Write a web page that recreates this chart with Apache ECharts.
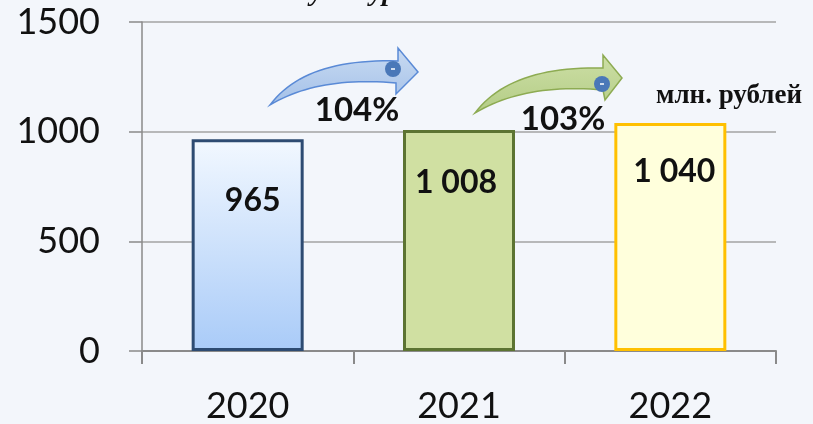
<!DOCTYPE html>
<html>
<head>
<meta charset="utf-8">
<script src="https://cdn.jsdelivr.net/npm/echarts@6/dist/echarts.min.js"></script>
<style>
  html, body { margin: 0; padding: 0; background: #f3f6fb; }
  #chart { width: 813px; height: 424px; }
</style>
</head>
<body>
<div id="chart"></div>
<script>
const years = ["2020", "2021", "2022"];
const amounts = [965, 1008, 1040];
const growthLabels = ["104%", "103%"];
const yTicks = [0, 500, 1000, 1500];
const unitText = "млн. рублей";

// bar looks, one per year
const barStyles = [
  {
    color: new echarts.graphic.LinearGradient(0, 0, 0, 1, [
      { offset: 0, color: "#f2f8ff" },
      { offset: 1, color: "#a9cbf8" },
    ]),
    borderColor: "#2d4b72",
  },
  { color: "#d0e0a2", borderColor: "#5c7432" },
  { color: "#ffffdc", borderColor: "#ffc000" },
];
const labelTweaks = [
  { distance: 45, offset: [5, 0] },
  { distance: 37, offset: [-3, 0] },
  { distance: 33, offset: [4, 0] },
];

const fmt = (v) => String(v).replace(/\B(?=(\d{3})+(?!\d))/g, " ");

const chart = echarts.init(document.getElementById("chart"));

// points along a quadratic curve, for the curved arrows
function quad(p0, c, p1, n) {
  const pts = [];
  for (let k = 0; k <= n; k++) {
    const t = k / n;
    const a = (1 - t) * (1 - t), b = 2 * (1 - t) * t, d = t * t;
    pts.push([a * p0[0] + b * c[0] + d * p1[0], a * p0[1] + b * c[1] + d * p1[1]]);
  }
  return pts;
}

function arrow(a, fillTop, fillBottom, stroke, dot) {
  const pts = [
    ...quad(a.tail, a.upperCtrl, a.upperEnd, 24),
    a.headTop,
    a.tip,
    a.headBottom,
    ...quad(a.lowerEnd, a.lowerCtrl, a.tail, 24),
  ];
  return [
    {
      type: "polygon",
      z: 10,
      shape: { points: pts },
      style: {
        fill: new echarts.graphic.LinearGradient(0, 0, 0, 1, [
          { offset: 0, color: fillTop },
          { offset: 1, color: fillBottom },
        ]),
        stroke: stroke,
        lineWidth: 1.5,
      },
    },
    {
      type: "circle",
      z: 11,
      shape: { cx: dot[0], cy: dot[1], r: 8 },
      style: { fill: "#4a78b8" },
    },
    {
      type: "line",
      z: 12,
      shape: { x1: dot[0] - 2, y1: dot[1], x2: dot[0] + 2, y2: dot[1] },
      style: { stroke: "#ffffff", lineWidth: 1.5 },
    },
  ];
}

const option = {
  backgroundColor: "#f3f6fb",
  animation: false,
  grid: { left: 142, right: 37, top: 22, bottom: 71 },
  xAxis: {
    type: "category",
    data: years,
    axisLine: { lineStyle: { color: "#8a8a8a", width: 2 } },
    axisTick: { show: true, length: 13, lineStyle: { color: "#8a8a8a", width: 2 } },
    axisLabel: {
      color: "#111",
      fontFamily: "Lato",
      fontSize: 36,
      margin: 37,
    },
    splitLine: { show: false },
  },
  yAxis: {
    type: "value",
    min: yTicks[0],
    max: yTicks[yTicks.length - 1],
    interval: 500,
    axisLine: { show: true, lineStyle: { color: "#8a8a8a", width: 1.5 } },
    axisTick: { show: true, length: 13, lineStyle: { color: "#8a8a8a", width: 1.5 } },
    axisLabel: {
      color: "#111",
      fontFamily: "Lato",
      fontSize: 36,
      margin: 42,
      formatter: (v) => String(v),
    },
    splitLine: { lineStyle: { color: "#a3a3a3", width: 1.5 } },
  },
  series: [
    {
      type: "bar",
      barWidth: 112,
      data: amounts.map((v, i) => ({
        value: v,
        itemStyle: {
          color: barStyles[i].color,
          borderColor: barStyles[i].borderColor,
          borderWidth: 3,
        },
        label: {
          show: true,
          position: "insideTop",
          distance: labelTweaks[i].distance,
          offset: labelTweaks[i].offset,
          formatter: () => fmt(v),
          color: "#111",
          fontFamily: "Lato",
          fontWeight: "bold",
          fontSize: 32,
        },
      })),
    },
  ],
  graphic: [
    // cut-off heading at the very top
    {
      type: "text",
      x: 296,
      y: 7,
      style: {
        text: "культуры",
        font: "italic bold 28px 'Liberation Serif'",
        fill: "#111",
        verticalAlign: "bottom",
      },
    },
    ...arrow(
      {
        tail: [270, 105], upperCtrl: [305, 58], upperEnd: [398, 61],
        headTop: [398, 48], tip: [418, 72], headBottom: [396, 94],
        lowerEnd: [396, 83], lowerCtrl: [318, 76],
      },
      "#c9dbf2", "#a3c0e8", "#5a8ad6", [393, 69]
    ),
    ...arrow(
      {
        tail: [475, 113], upperCtrl: [510, 66], upperEnd: [603, 68],
        headTop: [603, 55], tip: [622, 78], headBottom: [605, 100],
        lowerEnd: [603, 90], lowerCtrl: [525, 83],
      },
      "#cddfa6", "#b3cc85", "#8dab52", [602, 84]
    ),
    {
      type: "text",
      x: 357,
      y: 110,
      z: 20,
      style: {
        text: growthLabels[0],
        font: "bold 33px Lato",
        fill: "#111",
        align: "center",
        verticalAlign: "middle",
      },
    },
    {
      type: "text",
      x: 563,
      y: 119,
      z: 20,
      style: {
        text: growthLabels[1],
        font: "bold 33px Lato",
        fill: "#111",
        align: "center",
        verticalAlign: "middle",
      },
    },
    {
      type: "text",
      x: 729,
      y: 96,
      z: 20,
      style: {
        text: unitText,
        font: "bold 27px 'Liberation Serif'",
        fill: "#111",
        align: "center",
        verticalAlign: "middle",
      },
    },
  ],
};

chart.setOption(option);
</script>
</body>
</html>
